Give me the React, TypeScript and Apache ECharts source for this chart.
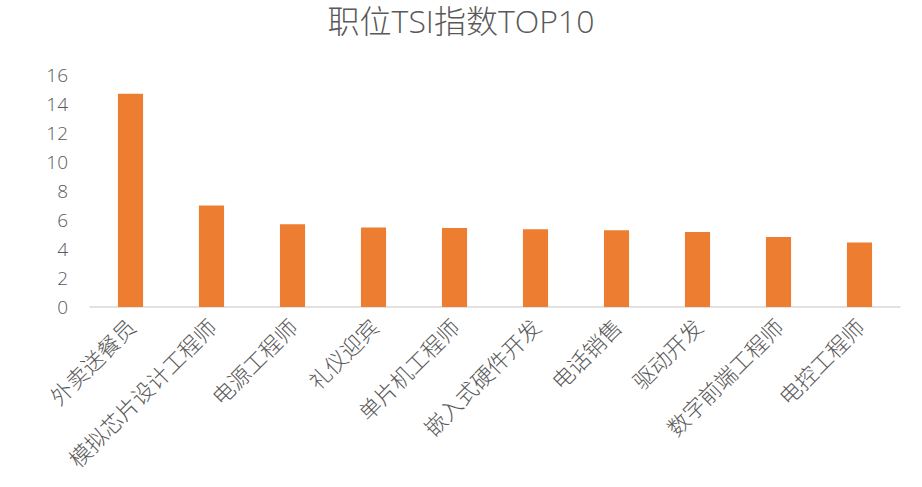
import React, { useEffect, useRef } from "react";
import * as echarts from "echarts";

const categories = ["外卖送餐员", "模拟芯片设计工程师", "电源工程师", "礼仪迎宾", "单片机工程师", "嵌入式硬件开发", "电话销售", "驱动开发", "数字前端工程师", "电控工程师"];
const values = [14.7, 7.0, 5.71, 5.48, 5.44, 5.37, 5.3, 5.18, 4.83, 4.44];
const yTicks = { min: 0, max: 16, interval: 2 };

export default function App() {
  const ref = useRef<HTMLDivElement>(null);
  useEffect(() => {
    const chart = echarts.init(ref.current!, null, { renderer: "svg" });
    const font = "'Noto Sans CJK SC', 'Open Sans', sans-serif";
    chart.setOption({
      animation: false,
      title: {
        text: "职位TSI指数TOP10",
        left: "center",
        top: 3,
        padding: 0,
        textStyle: { fontFamily: "'Open Sans', 'Noto Sans CJK SC', sans-serif", fontSize: 32, lineHeight: 34, fontWeight: 300, color: "#595959" },
      },
      grid: { left: 90, right: 22, top: 75, bottom: 180, containLabel: false },
      xAxis: {
        type: "category",
        data: categories,
        axisLine: { lineStyle: { color: "#D9D9D9", width: 1.5 } },
        axisTick: { show: false },
        axisLabel: { rotate: 45, fontFamily: font, fontSize: 22, fontWeight: 300, color: "#595959", margin: 15, interval: 0 },
      },
      yAxis: {
        type: "value",
        min: yTicks.min,
        max: yTicks.max,
        interval: yTicks.interval,
        splitLine: { show: false },
        axisLine: { show: false },
        axisTick: { show: false },
        axisLabel: { fontFamily: "'Open Sans', sans-serif", fontSize: 19, fontWeight: 300, color: "#595959", margin: 22 },
      },
      series: [
        {
          type: "bar",
          data: values,
          barWidth: "31%",
          itemStyle: { color: "#ED7D31" },
        },
      ],
    });
    return () => chart.dispose();
  }, []);
  return <div ref={ref} style={{ width: 922, height: 487, position: "absolute", left: 0, top: 0 }} />;
}
